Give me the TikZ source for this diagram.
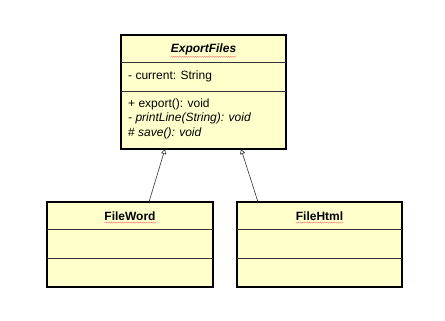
\documentclass[tikz,border=0pt]{standalone}
\usepackage{fontspec}
\setmainfont{Liberation Sans}
\usetikzlibrary{arrows.meta,decorations.pathmorphing}
\definecolor{umlfill}{HTML}{FFFFCC}
\definecolor{linkgray}{HTML}{333333}
\begin{document}
\begin{tikzpicture}[x=1pt,y=-1pt,
  classbox/.style={draw=black, line width=1.2pt, fill=umlfill, inner sep=0pt, outer sep=0pt},
  compsep/.style={draw=black!80, line width=0.6pt},
  member/.style={anchor=west, inner sep=0pt, font=\fontsize{12}{14}\selectfont},
  title/.style={inner sep=0pt, font=\fontsize{12}{14}\selectfont\bfseries},
  squiggle/.style={draw=red!55, line width=0.35pt, decorate,
    decoration={snake, amplitude=0.6pt, segment length=2.2pt}},
  extends/.style={draw=linkgray, line width=0.6pt,
    -{Triangle[open, length=5pt, width=5pt, line width=0.6pt]}}]
\useasboundingbox (0,0) rectangle (445,321);

% abstract base class
\node[classbox, minimum width=165pt, minimum height=114pt, anchor=north west] (export) at (121,35) {};
\draw[compsep] ([yshift=-27pt]export.north west) -- ([yshift=-27pt]export.north east);
\draw[compsep] ([yshift=-56pt]export.north west) -- ([yshift=-56pt]export.north east);
\node[title] (exportname) at (203.5,49) {\itshape ExportFiles};
\node[member] (attcurrent) at (128,76.5) {- current: String};
\node[member] (opexport) at (128,104) {+ export(): void};
\node[member] (opprint) at (128,118.5) {\itshape - printLine(String): void};
\node[member] (opsave) at (128,133) {\# \itshape save(): void};

% subclasses
\node[classbox, minimum width=166pt, minimum height=85pt, anchor=north west] (word) at (47,202) {};
\draw[compsep] ([yshift=-27pt]word.north west) -- ([yshift=-27pt]word.north east);
\draw[compsep] ([yshift=-56pt]word.north west) -- ([yshift=-56pt]word.north east);
\node[title] (wordname) at (130,216) {FileWord};

\node[classbox, minimum width=165pt, minimum height=85pt, anchor=north west] (html) at (237,202) {};
\draw[compsep] ([yshift=-27pt]html.north west) -- ([yshift=-27pt]html.north east);
\draw[compsep] ([yshift=-56pt]html.north west) -- ([yshift=-56pt]html.north east);
\node[title] (htmlname) at (319.5,216) {FileHtml};

% spell-check marks under the class names
\draw[squiggle] ([yshift=-2pt]exportname.south west) -- ([yshift=-2pt]exportname.south east);
\draw[squiggle] ([yshift=-2pt]wordname.south west) -- ([yshift=-2pt]wordname.south east);
\draw[squiggle] ([yshift=-2pt]htmlname.south west) -- ([yshift=-2pt]htmlname.south east);

% generalisation links
\draw[extends] ([xshift=19pt]word.north) -- ([xshift=-38.5pt]export.south);
\draw[extends] ([xshift=-61.5pt]html.north) -- ([xshift=37.5pt]export.south);
\end{tikzpicture}
\end{document}
